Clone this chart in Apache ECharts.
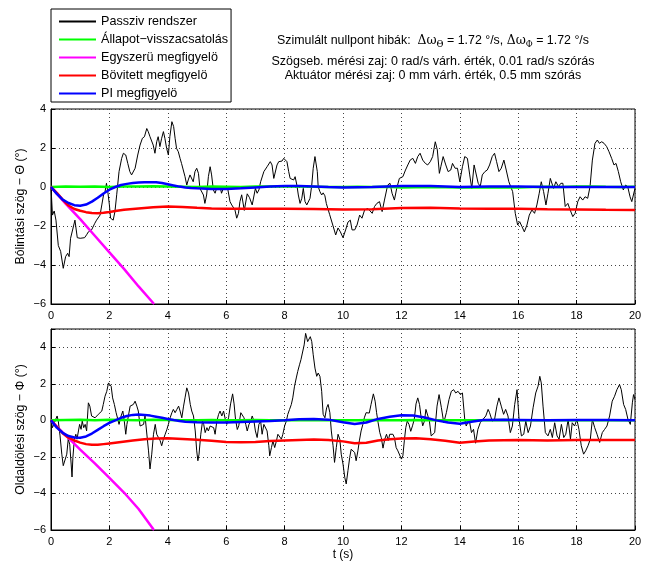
<!DOCTYPE html>
<html><head><meta charset="utf-8">
<script src="https://cdn.jsdelivr.net/npm/echarts@6/dist/echarts.min.js"></script>
<style>html,body{margin:0;padding:0;background:#fff}#c{width:651px;height:562px}</style>
</head><body><div id="c"></div>
<script>
// ---------- DATA ----------
const seriesNames = ['Passziv rendszer', 'Állapot−visszacsatolás', 'Egyszerü megfigyelö', 'Bövitett megfigyelö', 'PI megfigyelö'];
const xTicks = [0, 2, 4, 6, 8, 10, 12, 14, 16, 18, 20];
const yTicksTop = [-6, -4, -2, 0, 2, 4];
const yTicksBottom = [-6, -4, -2, 0, 2, 4];

// Top plot: Bólintási szög – Θ  ([t (s), value (°)])
const thetaPassive = [[0,0],[0.05,-1.44],[0.11,-1.23],[0.17,-1.7],[0.25,-3.0],[0.33,-3.3],[0.42,-4.17],[0.5,-3.57],[0.57,-3.4],[0.62,-3.57],[0.67,-2.63],[0.73,-2.55],[0.82,-1.7],[0.9,-2.6],[1.0,-2.63],[1.15,-2.6],[1.22,-2.45],[1.28,-2.3],[1.39,-2.2],[1.5,-1.86],[1.56,-1.7],[1.62,-1.78],[1.68,-1.44],[1.74,-0.92],[1.8,-0.4],[1.85,-0.24],[1.9,0.19],[1.95,-0.3],[2.0,-0.92],[2.04,-1.6],[2.13,-1.7],[2.19,-1.26],[2.25,-0.4],[2.33,0.79],[2.42,1.47],[2.48,1.73],[2.56,1.64],[2.63,1.21],[2.7,0.79],[2.76,0.62],[2.82,0.53],[2.88,0.96],[2.97,1.64],[3.05,2.15],[3.13,2.5],[3.2,2.58],[3.28,3.0],[3.33,2.84],[3.39,2.58],[3.45,2.67],[3.5,2.15],[3.56,1.73],[3.62,2.32],[3.67,2.58],[3.73,2.07],[3.79,2.5],[3.85,2.84],[3.9,2.5],[3.96,1.98],[4.02,1.64],[4.07,2.58],[4.14,3.35],[4.2,3.1],[4.25,2.5],[4.3,1.98],[4.36,1.81],[4.42,1.47],[4.47,1.21],[4.53,1.13],[4.59,0.53],[4.65,0.1],[4.7,0.36],[4.76,0.62],[4.82,0.53],[4.87,0.27],[4.93,0.79],[4.99,0.96],[5.05,0.7],[5.1,-0.07],[5.16,-0.15],[5.22,-0.41],[5.27,-0.84],[5.33,-0.41],[5.39,0.53],[5.45,1.04],[5.5,0.62],[5.56,-0.15],[5.62,-0.32],[5.67,-0.07],[5.73,-0.07],[5.79,0.02],[5.84,-0.32],[5.9,-0.07],[5.96,0.02],[6.05,-0.07],[6.13,-0.75],[6.19,-0.92],[6.24,-0.84],[6.3,-1.18],[6.36,-1.6],[6.42,-1.35],[6.47,-0.75],[6.53,-0.4],[6.62,-1.2],[6.72,-0.35],[6.8,-0.55],[6.89,-0.92],[7.0,-0.07],[7.06,-0.32],[7.12,-0.15],[7.18,0.27],[7.29,0.79],[7.4,1.04],[7.51,1.3],[7.57,1.13],[7.63,0.44],[7.68,0.53],[7.74,1.13],[7.8,1.3],[7.91,1.33],[7.97,1.47],[8.02,1.56],[8.08,1.3],[8.14,0.79],[8.19,0.44],[8.25,0.53],[8.31,0.36],[8.36,0.53],[8.42,0.1],[8.47,-0.41],[8.53,-0.84],[8.59,-0.58],[8.64,-0.07],[8.7,-0.75],[8.76,-0.92],[8.81,-0.84],[8.87,-0.58],[8.93,0.1],[8.98,0.96],[9.04,1.56],[9.07,1.47],[9.12,0.79],[9.15,0.02],[9.21,-0.24],[9.27,-0.41],[9.32,-0.3],[9.38,-0.45],[9.43,-0.85],[9.54,-1.4],[9.66,-2.0],[9.75,-2.46],[9.83,-2.1],[9.91,-2.3],[10.0,-2.6],[10.09,-2.2],[10.17,-1.8],[10.25,-1.7],[10.31,-2.2],[10.4,-2.2],[10.48,-1.95],[10.57,-1.44],[10.65,-1.6],[10.74,-1.18],[10.85,-1.1],[10.91,-1.1],[11.0,-1.35],[11.08,-1.0],[11.16,-0.84],[11.25,-0.75],[11.34,-1.26],[11.42,-0.67],[11.53,0.1],[11.61,0.19],[11.68,-0.32],[11.76,-0.67],[11.84,-0.07],[11.93,0.44],[12.05,0.53],[12.14,0.87],[12.22,1.13],[12.3,1.38],[12.39,1.47],[12.48,1.21],[12.56,1.56],[12.64,1.73],[12.73,1.38],[12.82,1.21],[12.9,1.13],[12.99,1.3],[13.07,1.56],[13.16,2.32],[13.23,1.9],[13.3,0.7],[13.35,1.04],[13.43,1.56],[13.52,1.13],[13.6,0.79],[13.69,0.87],[13.75,1.21],[13.84,0.96],[13.92,0.96],[14.0,0.27],[14.09,1.04],[14.17,1.56],[14.26,1.47],[14.34,0.62],[14.41,-0.07],[14.49,1.13],[14.55,1.21],[14.63,0.19],[14.7,0.02],[14.77,0.62],[14.86,0.79],[14.94,0.87],[15.02,1.13],[15.11,1.56],[15.19,1.73],[15.26,1.3],[15.34,0.79],[15.42,0.96],[15.51,1.38],[15.59,0.87],[15.68,0.27],[15.73,0.36],[15.81,-0.24],[15.9,-1.35],[15.98,-1.95],[16.05,-1.78],[16.13,-2.03],[16.21,-2.3],[16.3,-1.95],[16.38,-1.44],[16.47,-1.18],[16.56,-1.35],[16.64,-0.92],[16.72,-0.32],[16.79,0.27],[16.87,-0.24],[16.95,-0.92],[17.02,-0.32],[17.1,0.44],[17.15,0.53],[17.21,-0.07],[17.29,0.27],[17.38,0.02],[17.46,0.19],[17.53,0.19],[17.61,-1.0],[17.7,-0.84],[17.78,-1.18],[17.87,-1.52],[17.95,-1.35],[18.04,-0.75],[18.12,-0.5],[18.21,-0.67],[18.29,-0.5],[18.38,-0.58],[18.46,0.02],[18.54,1.38],[18.63,2.24],[18.71,2.41],[18.78,2.24],[18.86,2.32],[18.94,2.24],[19.03,2.07],[19.11,1.81],[19.2,1.47],[19.28,1.13],[19.35,1.21],[19.43,0.79],[19.51,0.27],[19.6,-0.15],[19.68,0.1],[19.75,0.02],[19.83,-0.5],[19.89,-0.75],[20.0,-0.07]];
const thetaState = [[0,0],[0.5,0.03],[1,0.01],[1.5,0.02],[2,0.0],[2.5,0.03],[3,0.02],[3.5,0.04],[4,0.02],[4.5,0.01],[5,0.0],[5.5,0.02],[6,0.01],[6.5,0.0],[7,0.02],[7.5,0.03],[8,0.03],[8.5,0.02],[9,0.01],[9.5,0.0],[10,0.0],[10.5,0.01],[11,0.0],[11.5,0.01],[12,-0.02],[12.5,-0.01],[13,0.0],[13.5,-0.01],[14,-0.02],[14.5,-0.03],[15,-0.02],[15.5,-0.03],[16,-0.02],[16.5,0.0],[17,0.01],[17.5,0.0],[18,0.02],[18.5,0.03],[19,0.01],[19.5,0.0],[20,0.01]];
const thetaSimple = [[0,0],[0.5,-0.85],[1.0,-1.65],[1.5,-2.5],[2.0,-3.35],[2.5,-4.2],[3.0,-5.1],[3.5,-5.95],[3.53,-6.0]];
const thetaExtended = [[0,0],[0.2,-0.3],[0.4,-0.65],[0.6,-0.95],[0.8,-1.13],[1.0,-1.22],[1.2,-1.29],[1.4,-1.33],[1.6,-1.34],[1.8,-1.32],[2.0,-1.28],[2.2,-1.23],[2.5,-1.17],[3.0,-1.1],[3.5,-1.04],[4.0,-1.0],[4.5,-1.03],[5.0,-1.07],[5.5,-1.1],[6.0,-1.12],[7.0,-1.12],[8.0,-1.12],[9.0,-1.13],[10,-1.16],[11,-1.14],[12,-1.08],[13,-1.06],[14,-1.1],[15,-1.12],[16,-1.12],[17,-1.14],[18,-1.15],[19,-1.17],[20,-1.18]];
const thetaPI = [[0,0],[0.2,-0.35],[0.4,-0.65],[0.6,-0.82],[0.8,-0.93],[1.0,-0.96],[1.2,-0.9],[1.4,-0.75],[1.6,-0.55],[1.8,-0.33],[2.0,-0.14],[2.2,0.0],[2.4,0.1],[2.6,0.16],[2.8,0.2],[3.0,0.23],[3.2,0.24],[3.4,0.25],[3.6,0.24],[3.8,0.2],[4.0,0.14],[4.2,0.08],[4.4,0.02],[4.6,-0.02],[4.8,-0.05],[5.0,-0.07],[5.5,-0.1],[6.0,-0.1],[6.5,-0.07],[7.0,-0.02],[7.5,0.03],[8.0,0.05],[8.5,0.05],[9.0,0.03],[9.5,0.0],[10,-0.02],[11,0.0],[12,0.05],[13,0.05],[14,0.0],[15,0.02],[16,0.03],[17,0.0],[18,0.0],[19,0.0],[20,0.0]];

// Bottom plot: Oldaldölési szög – Φ
const phiPassive = [[0,0],[0.05,-0.4],[0.1,-0.2],[0.16,0.05],[0.21,0.24],[0.25,-0.04],[0.31,-0.85],[0.37,-1.85],[0.42,-2.48],[0.48,-2.57],[0.54,-1.85],[0.59,-1.03],[0.64,-1.3],[0.69,-2.39],[0.72,-3.1],[0.75,-2.03],[0.8,-1.03],[0.85,-0.76],[0.89,-1.03],[0.94,-0.58],[0.98,-0.22],[1.03,-0.49],[1.07,-0.04],[1.12,-0.4],[1.17,-0.22],[1.22,-0.58],[1.28,0.96],[1.33,0.78],[1.39,0.24],[1.45,0.33],[1.51,0.14],[1.57,0.14],[1.62,0.33],[1.68,0.24],[1.74,0.51],[1.79,0.87],[1.85,1.32],[1.91,1.59],[1.97,2.05],[2.01,2.14],[2.06,1.87],[2.11,1.23],[2.17,0.87],[2.23,0.42],[2.29,0.05],[2.33,-0.22],[2.4,0.24],[2.46,0.51],[2.51,-0.04],[2.56,-0.76],[2.6,-0.22],[2.65,0.24],[2.71,0.78],[2.77,0.69],[2.82,0.87],[2.88,1.05],[2.94,0.78],[2.99,0.51],[3.05,-0.31],[3.11,-0.4],[3.17,-0.22],[3.22,0.24],[3.28,0.14],[3.34,-1.67],[3.39,-2.66],[3.45,-1.85],[3.51,-0.76],[3.57,-0.22],[3.62,-0.76],[3.68,-0.94],[3.74,-1.12],[3.79,-1.39],[3.85,-1.03],[3.91,-0.76],[3.97,-0.49],[4.02,-0.22],[4.08,0.14],[4.14,0.42],[4.19,0.6],[4.25,0.42],[4.31,0.6],[4.37,0.78],[4.42,0.51],[4.48,0.14],[4.54,0.78],[4.59,1.23],[4.65,1.78],[4.71,1.5],[4.77,0.87],[4.82,0.51],[4.88,0.24],[4.94,-0.58],[4.99,-1.67],[5.03,-2.21],[5.07,-1.85],[5.13,-0.76],[5.19,-0.04],[5.23,-0.22],[5.28,-0.67],[5.34,-0.4],[5.39,-0.58],[5.45,-0.31],[5.51,-0.22],[5.57,-0.4],[5.62,-0.76],[5.68,-0.04],[5.74,0.33],[5.79,0.51],[5.85,0.24],[5.91,0.51],[5.97,0.05],[6.02,-0.22],[6.08,0.14],[6.15,0.9],[6.22,1.45],[6.27,0.9],[6.32,0.05],[6.38,-0.5],[6.43,-0.3],[6.5,0.42],[6.55,0.51],[6.61,0.14],[6.67,-0.22],[6.72,-0.58],[6.78,-0.22],[6.84,-0.04],[6.89,0.24],[6.95,-0.04],[7.0,-0.58],[7.06,-0.94],[7.12,-0.22],[7.18,-0.04],[7.23,-0.76],[7.29,-0.22],[7.34,-0.13],[7.4,-0.58],[7.46,-1.39],[7.49,-1.94],[7.55,-1.49],[7.6,-1.12],[7.66,-1.49],[7.72,-1.12],[7.77,-0.76],[7.83,-0.85],[7.89,-1.03],[7.94,-0.76],[8.0,-0.31],[8.06,-0.04],[8.11,0.33],[8.17,0.6],[8.23,0.87],[8.28,1.23],[8.34,1.87],[8.4,2.32],[8.45,2.68],[8.51,3.04],[8.56,3.32],[8.61,3.41],[8.67,4.13],[8.72,4.76],[8.76,4.67],[8.79,4.31],[8.84,4.22],[8.88,4.58],[8.93,4.31],[8.98,3.59],[9.04,2.86],[9.1,2.41],[9.15,2.59],[9.21,2.41],[9.27,1.59],[9.32,0.33],[9.38,0.14],[9.44,0.69],[9.49,0.87],[9.55,0.42],[9.6,-0.58],[9.66,-1.39],[9.71,-2.3],[9.77,-1.49],[9.83,-0.76],[9.89,-1.03],[9.94,-1.85],[10.0,-2.39],[10.06,-3.12],[10.11,-3.48],[10.17,-2.75],[10.23,-2.03],[10.28,-1.58],[10.34,-1.49],[10.4,-1.76],[10.45,-2.21],[10.51,-1.67],[10.56,-1.12],[10.62,-0.58],[10.68,-0.22],[10.73,0.14],[10.79,0.42],[10.85,0.33],[10.9,0.4],[10.96,0.87],[11.04,1.45],[11.1,1.05],[11.15,0.42],[11.2,-0.1],[11.26,-0.67],[11.31,-0.94],[11.37,-1.52],[11.43,-1.03],[11.49,-0.76],[11.55,-1.1],[11.6,-0.76],[11.66,-0.85],[11.71,-0.76],[11.76,-0.94],[11.82,-1.49],[11.88,-1.67],[11.94,-1.76],[12.0,-2.12],[12.05,-1.94],[12.1,-1.12],[12.15,-0.4],[12.2,-0.04],[12.26,-0.22],[12.32,-0.6],[12.38,-0.3],[12.44,0.05],[12.5,0.9],[12.56,1.23],[12.62,0.87],[12.67,0.24],[12.73,-0.3],[12.79,-0.04],[12.84,0.6],[12.9,0.65],[12.96,-0.04],[13.02,-0.85],[13.08,-0.94],[13.14,-0.67],[13.22,0.78],[13.29,1.41],[13.37,0.69],[13.45,-0.13],[13.54,0.42],[13.63,1.14],[13.71,1.59],[13.79,1.68],[13.86,1.5],[13.94,1.59],[14.02,1.41],[14.09,1.5],[14.17,0.05],[14.22,-0.31],[14.32,0.05],[14.4,-0.67],[14.47,-0.49],[14.54,-1.25],[14.62,-0.49],[14.7,-0.13],[14.79,0.05],[14.89,0.24],[14.97,0.6],[15.02,0.42],[15.11,-0.04],[15.19,0.05],[15.27,0.78],[15.34,1.23],[15.42,0.78],[15.5,0.33],[15.57,0.6],[15.65,0.24],[15.73,-0.67],[15.8,-0.31],[15.88,0.87],[15.96,1.68],[16.03,0.05],[16.11,-0.85],[16.19,-0.76],[16.26,-0.04],[16.34,-0.67],[16.42,-0.31],[16.51,0.69],[16.6,1.5],[16.68,1.87],[16.74,2.41],[16.79,2.05],[16.85,0.78],[16.93,-0.67],[17.02,-0.85],[17.1,-0.49],[17.17,-0.94],[17.25,-0.13],[17.33,-0.85],[17.4,-1.03],[17.48,-0.22],[17.56,-0.94],[17.63,-0.76],[17.71,0.05],[17.79,-1.03],[17.85,-0.13],[17.93,-0.31],[18.01,0.05],[18.08,-0.49],[18.16,-1.39],[18.24,-1.85],[18.31,-1.67],[18.39,-1.39],[18.47,-1.03],[18.54,0.05],[18.62,-0.4],[18.7,-0.76],[18.79,-1.21],[18.88,-0.67],[18.96,-0.49],[19.04,-0.31],[19.13,0.24],[19.22,1.05],[19.3,1.32],[19.38,1.68],[19.47,1.96],[19.53,1.68],[19.61,0.87],[19.68,0.6],[19.76,0.05],[19.84,-0.22],[19.91,0.96],[19.95,1.41],[20.0,1.14]];
const phiState = [[0,0],[0.5,0.02],[1,0.03],[1.5,0.01],[2,0.03],[2.5,0.02],[3,0.01],[3.5,0.03],[4,0.02],[4.5,0.0],[5,0.01],[5.5,0.02],[6,0.0],[6.5,0.01],[7,0.02],[7.5,0.0],[8,0.01],[8.5,0.02],[9,0.01],[9.5,0.0],[10,0.01],[10.5,0.0],[11,0.02],[11.5,0.0],[12,0.01],[12.5,0.02],[13,0.0],[13.5,0.01],[14,0.0],[14.5,0.01],[15,0.0],[15.5,0.02],[16,0.0],[16.5,0.01],[17,0.0],[17.5,0.01],[18,0.0],[18.5,0.01],[19,0.0],[19.5,0.01],[20,0.0]];
const phiSimple = [[0,0],[0.25,-0.42],[0.5,-0.82],[0.75,-1.2],[1.0,-1.6],[1.5,-2.35],[2.0,-3.15],[2.5,-3.95],[3.0,-4.85],[3.5,-5.95],[3.53,-6.0]];
const phiExtended = [[0,0],[0.2,-0.35],[0.4,-0.7],[0.6,-0.95],[0.8,-1.1],[1.0,-1.22],[1.2,-1.3],[1.4,-1.34],[1.6,-1.34],[1.8,-1.3],[2.0,-1.26],[2.4,-1.18],[2.8,-1.1],[3.2,-1.03],[3.6,-0.99],[4.0,-0.98],[4.5,-1.02],[5.0,-1.06],[5.5,-1.12],[6.0,-1.18],[6.5,-1.2],[7.0,-1.18],[7.5,-1.13],[8.0,-1.1],[8.5,-1.07],[9.0,-1.05],[9.5,-1.07],[10.0,-1.15],[10.4,-1.25],[10.8,-1.22],[11.2,-1.1],[11.6,-1.03],[12.0,-0.99],[12.5,-0.98],[13.0,-1.03],[13.5,-1.12],[14.0,-1.22],[14.5,-1.16],[15.0,-1.1],[16.0,-1.07],[17.0,-1.1],[18.0,-1.08],[19.0,-1.08],[20.0,-1.08]];
const phiPI = [[0,0],[0.2,-0.4],[0.4,-0.68],[0.6,-0.86],[0.8,-0.94],[1.0,-0.95],[1.2,-0.88],[1.4,-0.72],[1.6,-0.52],[1.8,-0.32],[2.0,-0.14],[2.2,0.0],[2.4,0.14],[2.6,0.24],[2.8,0.3],[3.0,0.32],[3.2,0.3],[3.4,0.26],[3.6,0.2],[3.8,0.14],[4.0,0.08],[4.2,0.02],[4.4,-0.03],[4.6,-0.07],[5.0,-0.1],[5.5,-0.12],[6.0,-0.12],[6.5,-0.09],[7.0,-0.06],[7.5,-0.04],[8.0,0.0],[8.5,0.06],[9.0,0.08],[9.5,0.04],[10.0,-0.1],[10.4,-0.2],[10.8,-0.12],[11.2,0.08],[11.6,0.2],[12.0,0.28],[12.4,0.27],[12.8,0.16],[13.2,0.0],[13.6,-0.12],[14.0,-0.18],[14.4,-0.08],[14.8,0.02],[15.5,0.03],[16,0.02],[17,0.0],[18,0.02],[19,0.02],[20,0.0]];

// ---------- CHART ----------
const FONT = '"Liberation Sans", Arial, Helvetica, sans-serif';
const colors = ['#000000', '#00ff00', '#ff00ff', '#ff0000', '#0000ff'];
const widths = [1, 2.5, 2.5, 2.5, 2.5];
const fmt = v => (v === 5 ? '' : String(v).replace('-', '\u2212'));
const grids = [
  {left: 51, top: 109, width: 584, height: 195},
  {left: 51, top: 329, width: 584, height: 203}
];
const gridLine = {show: true, lineStyle: {color: '#444', width: 1, type: [1, 3]}};
function xAx(i, name) {
  return {type: 'value', gridIndex: i, min: xTicks[0], max: xTicks[xTicks.length - 1], interval: 2,
    name: name, nameLocation: 'middle', nameGap: 19,
    nameTextStyle: {fontFamily: FONT, fontSize: 12, color: '#000'},
    axisLine: {show: true, onZero: false, lineStyle: {color: '#000', width: 1}},
    axisTick: {show: true, inside: true, length: 4, lineStyle: {color: '#000'}},
    axisLabel: {fontFamily: FONT, fontSize: 11, color: '#000', margin: 6, formatter: fmt},
    splitLine: gridLine};
}
function yAx(i, min, max, name) {
  return {type: 'value', gridIndex: i, min: min, max: max, interval: 2,
    name: name, nameLocation: 'middle', nameGap: 24, nameMoveOverlap: false,
    nameTextStyle: {fontFamily: FONT, fontSize: 12.3, color: '#000'},
    axisLine: {show: true, onZero: false, lineStyle: {color: '#000', width: 1}},
    axisTick: {show: true, inside: true, length: 4, lineStyle: {color: '#000'}},
    axisLabel: {fontFamily: FONT, fontSize: 11, color: '#000', margin: 5, formatter: fmt},
    splitLine: gridLine};
}
const topData = [thetaPassive, thetaState, thetaSimple, thetaExtended, thetaPI];
const botData = [phiPassive, phiState, phiSimple, phiExtended, phiPI];
const series = [];
[topData, botData].forEach((set, gi) => {
  set.forEach((d, k) => {
    series.push({type: 'line', name: seriesNames[k], data: d, xAxisIndex: gi, yAxisIndex: gi,
      symbol: 'none', showSymbol: false, smooth: false, clip: true, silent: true,
      lineStyle: {color: colors[k], width: widths[k]}, itemStyle: {color: colors[k]}, z: 2 + k});
  });
});
const chart = echarts.init(document.getElementById('c'));
chart.setOption({
  animation: false,
  backgroundColor: '#fff',
  grid: grids.map(g => Object.assign({show: true, borderColor: '#000', borderWidth: 1, backgroundColor: 'transparent'}, g)),
  xAxis: [xAx(0, ''), xAx(1, 't (s)')],
  yAxis: [yAx(0, yTicksTop[0], 4, 'Bólintási szög \u2212 \u0398 (°)'), yAx(1, yTicksBottom[0], 5, 'Oldaldölési szög \u2212 \u03A6 (°)')],
  legend: {orient: 'vertical', left: 51, top: 9, data: seriesNames, itemWidth: 37, itemHeight: 14, itemGap: 5,
    padding: [6, 3, 2, 7], borderColor: '#000', borderWidth: 1, borderRadius: 0, backgroundColor: '#fff',
    itemStyle: {opacity: 0}, selectedMode: false,
    textStyle: {fontFamily: FONT, fontSize: 12.6, color: '#000'}},
  graphic: [
    {type: 'text', x: 433, y: 41, style: {
      text: '{a|Szimulált nullpont hibák:  }{g|\u0394\u03C9}{s|\u0398}{a| = 1.72 °/s, }{g|\u0394\u03C9}{s|\u03A6}{a| = 1.72 °/s}',
      align: 'center', verticalAlign: 'middle',
      rich: {
        a: {fontFamily: FONT, fontSize: 12.4, fill: '#000', lineHeight: 16, verticalAlign: 'middle'},
        g: {fontFamily: '"DejaVu Serif", "Liberation Serif", serif', fontSize: 12.4, fill: '#000', lineHeight: 16, verticalAlign: 'middle'},
        s: {fontFamily: '"DejaVu Serif", "Liberation Serif", serif', fontSize: 8.5, fill: '#000', lineHeight: 9, verticalAlign: 'bottom'}
      }}},
    {type: 'text', x: 433, y: 62, style: {text: 'Szögseb. mérési zaj: 0 rad/s várh. érték, 0.01 rad/s szórás',
      align: 'center', verticalAlign: 'middle', font: '12.5px ' + FONT, fill: '#000'}},
    {type: 'text', x: 433, y: 76, style: {text: 'Aktuátor mérési zaj: 0 mm várh. érték, 0.5 mm szórás',
      align: 'center', verticalAlign: 'middle', font: '12.5px ' + FONT, fill: '#000'}}
  ],
  series: series
});
</script>
</body></html>
